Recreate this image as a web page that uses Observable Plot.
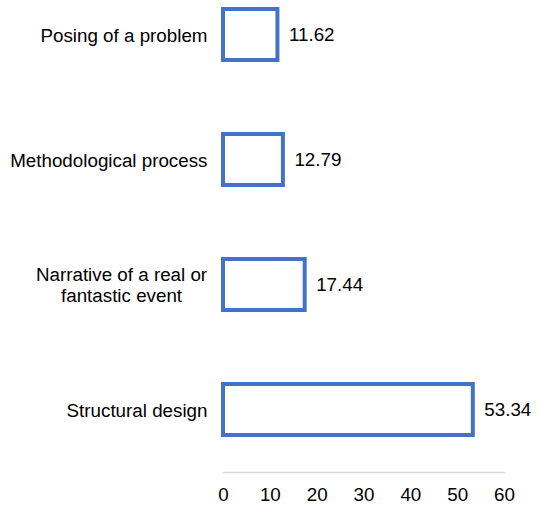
<!DOCTYPE html>
<html>
<head>
<meta charset="utf-8">
<script src="https://cdn.jsdelivr.net/npm/d3@7"></script>
<script src="https://cdn.jsdelivr.net/npm/@observablehq/plot@0.6"></script>
<style>
  html, body { margin: 0; padding: 0; background: #fff; }
  #chart svg { display: block; }
</style>
</head>
<body>
<div id="chart"></div>
<script>
const categories = [
  "Posing of a problem",
  "Methodological process",
  "Narrative of a real or fantastic event",
  "Structural design"
];
const values = [11.62, 12.79, 17.44, 53.34];
const tickLabels = [0, 10, 20, 30, 40, 50, 60];
const wrappedLabels = {
  "Narrative of a real or fantastic event": "Narrative of a real or\nfantastic event"
};

const data = categories.map((c, i) => ({category: c, value: values[i]}));
const FS = 18.8;

const chart = Plot.plot({
  width: 538,
  height: 505,
  marginTop: 0,
  marginBottom: 33,
  marginLeft: 223,
  marginRight: 34,
  style: {fontFamily: "'Liberation Sans', Arial, sans-serif", fontSize: FS + "px", color: "#000", background: "#fff"},
  x: {domain: [0, 60], ticks: tickLabels},
  y: {domain: categories, paddingInner: 0.592, paddingOuter: 0.184, align: 0.2065},
  marks: [
    Plot.frame({anchor: "bottom", stroke: "#d9d9d9", strokeWidth: 1.5}),
    Plot.barX(data, {x: "value", y: "category", fill: "#fff", stroke: "#4472C4", strokeWidth: 4}),
    Plot.text(data, {x: "value", y: "category", text: d => d.value.toFixed(2), textAnchor: "start", dx: 11, fontSize: FS, fill: "#000"}),
    Plot.axisX({ticks: tickLabels, tickSize: 0, tickPadding: 15, fontSize: FS, label: null, fill: "#000"}),
    Plot.axisY({tickSize: 0, tickPadding: 16, fontSize: FS, label: null, lineHeight: 1.12, fill: "#000",
      tickFormat: d => wrappedLabels[d] || d})
  ]
});
document.getElementById("chart").appendChild(chart);

// center-align the lines of wrapped (multi-line) y tick labels, as in the reference
chart.querySelectorAll("g[aria-label='y-axis tick label'] text").forEach(t => {
  const spans = t.querySelectorAll("tspan");
  if (spans.length > 1) {
    const w = t.getBBox().width;
    t.setAttribute("text-anchor", "middle");
    spans.forEach(s => s.setAttribute("x", -w / 2));
  }
});
</script>
</body>
</html>
